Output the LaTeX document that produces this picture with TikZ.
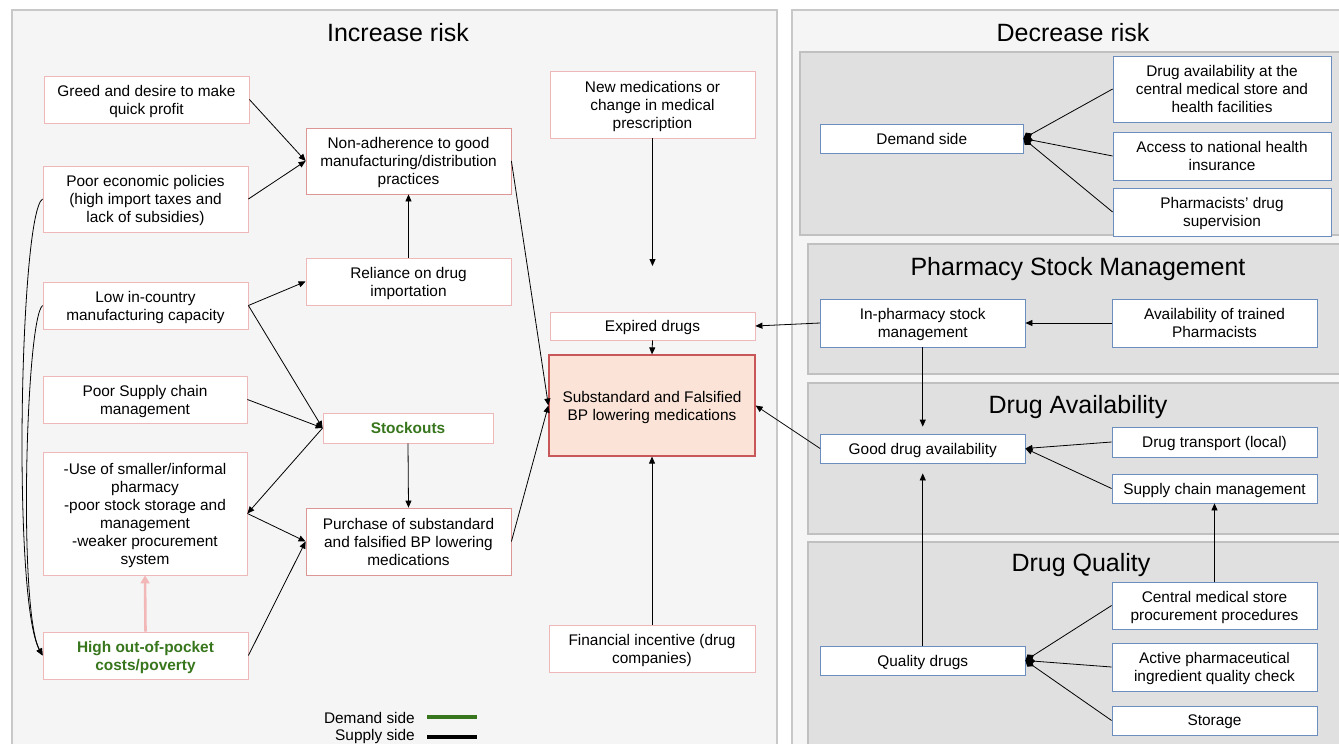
\documentclass[tikz,border=0pt]{standalone}
\usepackage{fontspec}
\setmainfont{Liberation Sans}
\usetikzlibrary{arrows.meta}
\definecolor{panelbg}{HTML}{F5F5F5}
\definecolor{panelln}{HTML}{C8C8C8}
\definecolor{subbg}{HTML}{E0E0E0}
\definecolor{subln}{HTML}{C0C0C0}
\definecolor{pinkb}{HTML}{EEB8B8}
\definecolor{pinkd}{HTML}{DC9696}
\definecolor{redb}{HTML}{C8575A}
\definecolor{redfill}{HTML}{FBE4D7}
\definecolor{blueb}{HTML}{6C8EBF}
\definecolor{dgreen}{HTML}{38761D}
\definecolor{pinkarrow}{HTML}{F2B8B8}
\begin{document}
\begin{tikzpicture}[x=1pt,y=-1pt,
  box/.style={draw, fill=white, line width=0.8pt, inner sep=0pt, align=center, text depth=-1.5pt, font=\fontsize{15.4}{18}\selectfont},
  pbox/.style={box, draw=pinkb},
  rbox/.style={box, draw=pinkd},
  bbox/.style={box, draw=blueb},
  sz/.style 2 args={minimum width=#1pt, minimum height=#2pt},
  conn/.style={line width=0.8pt, -{Triangle[length=7pt,width=6pt]}},
  dia/.style={line width=0.8pt, -{Diamond[length=10pt,width=8pt]}},
  panel/.style={fill=panelbg, draw=panelln, line width=1.2pt},
  subpanel/.style={fill=subbg, draw=subln, line width=1.2pt},
  title/.style={font=\fontsize{25}{30}\selectfont, inner sep=0pt},
  legtext/.style={font=\fontsize{15.4}{18}\selectfont, inner sep=0pt, anchor=east}
]
\clip (0,0) rectangle (1339,744);
\fill[white] (0,0) rectangle (1339,744);

% panels
\draw[panel] (12,10) rectangle (777,760);
\draw[panel] (792,10) rectangle (1350,760);
\draw[subpanel] (800,52) rectangle (1350,235);
\draw[subpanel] (808,244) rectangle (1350,374);
\draw[subpanel] (808,383) rectangle (1350,534);
\draw[subpanel] (808,542) rectangle (1350,760);

% titles
\node[title] (tinc) at (398,33) {Increase risk};
\node[title] (tdec) at (1073,33) {Decrease risk};
\node[title] (tpsm) at (1078,269) {Pharmacy Stock Management};
\node[title] (tda) at (1078,407.5) {Drug Availability};
\node[title] (tdq) at (1081,565.5) {Drug Quality};

% left column
\node[pbox, sz={205}{47}] (greed) at (146.5,99.5) {Greed and desire to make\\quick profit};
\node[pbox, sz={205}{66}] (econ) at (145.5,199) {Poor economic policies\\(high import taxes and\\lack of subsidies)};
\node[pbox, sz={205}{47}] (lowcap) at (145.5,305.5) {Low in-country\\manufacturing capacity};
\node[pbox, sz={204}{47}] (supply) at (145,399.5) {Poor Supply chain\\management};
\node[pbox, sz={204}{123}] (informal) at (145,513.5) {-Use of smaller/informal\\pharmacy\\-poor stock storage and\\management\\-weaker procurement\\system};
\node[pbox, sz={205}{47}, font=\fontsize{15.4}{18}\selectfont\bfseries, text=dgreen] (oop) at (145.5,655.5) {High out-of-pocket\\costs/poverty};

% middle column
\node[rbox, sz={205}{66}] (nonadh) at (408.5,161) {Non-adherence to good\\manufacturing/distribution\\practices};
\node[pbox, sz={205}{47}] (reliance) at (408.5,281.5) {Reliance on drug\\importation};
\node[pbox, sz={170}{30}, font=\fontsize{15.4}{18}\selectfont\bfseries, text=dgreen] (stockouts) at (408,428) {Stockouts};
\node[rbox, sz={205}{67}] (purchase) at (408.5,541.5) {Purchase of substandard\\and falsified BP lowering\\medications};

% centre column
\node[pbox, sz={205}{67}] (newmed) at (652.5,104.5) {New medications or\\change in medical\\prescription};
\coordinate (newmedend) at (652.5,266);
\node[pbox, sz={205}{28}] (expired) at (652.5,326) {Expired drugs};
\node[box, draw=redb, fill=redfill, line width=1.2pt, sz={206}{101}] (subst) at (652,405.5) {Substandard and Falsified\\BP lowering medications};
\node[pbox, sz={206}{47}] (financial) at (652,648.5) {Financial incentive (drug\\companies)};

% right side
\node[bbox, sz={202.5}{29}] (demand) at (921.75,138.5) {Demand side};
\node[bbox, sz={218}{66}] (davail) at (1222,89) {Drug availability at the\\central medical store and\\health facilities};
\node[bbox, sz={218}{48}] (access) at (1222,156) {Access to national health\\insurance};
\node[bbox, sz={218}{48}] (pharm) at (1222,212) {Pharmacists’ drug\\supervision};

\node[bbox, sz={204.5}{48}] (inpharm) at (922.75,323) {In-pharmacy stock\\management};
\node[bbox, sz={205}{48}] (trained) at (1214.5,323) {Availability of trained\\Pharmacists};

\node[bbox, sz={204.5}{29}] (gooddrug) at (922.75,448.5) {Good drug availability};
\node[bbox, sz={205}{30}] (transport) at (1214.5,442) {Drug transport (local)};
\node[bbox, sz={205}{29}] (supplychain) at (1214.5,488.5) {Supply chain management};

\node[bbox, sz={204.5}{29}] (quality) at (922.75,660.5) {Quality drugs};
\node[bbox, sz={205}{47}] (central) at (1214.5,605.5) {Central medical store\\procurement procedures};
\node[bbox, sz={205}{48}] (active) at (1214.5,667) {Active pharmaceutical\\ingredient quality check};
\node[bbox, sz={205}{29}] (storage) at (1214.5,720.5) {Storage};

% connectors left panel
\draw[conn] (greed.east) -- (nonadh.west);
\draw[conn] (econ.east) -- (nonadh.west);
\draw[conn] (reliance.north) -- (nonadh.south);
\draw[conn] (lowcap.east) -- (reliance.west);
\draw[conn] (lowcap.east) -- (stockouts.west);
\draw[conn] (supply.east) -- (stockouts.west);
\draw[conn] (stockouts.west) -- (informal.east);
\draw[conn] (informal.east) -- (purchase.west);
\draw[conn] (oop.east) -- (purchase.west);
\draw[conn] (stockouts.south) -- (purchase.north);
\draw[line width=2.6pt, draw=pinkarrow, -{Triangle[length=8pt,width=9pt]}] (oop.north) -- (informal.south);
\draw[conn] (econ.west) .. controls (20,212) and (12,600) .. (oop.west);
\draw[conn] (lowcap.west) .. controls (26,318) and (18,610) .. (oop.west);
\draw[conn] (nonadh.east) -- (subst.west);
\draw[conn] (purchase.east) -- (subst.west);
\draw[conn] (newmed.south) -- (newmedend);
\draw[conn] (expired.south) -- (subst.north);
\draw[conn] (financial.north) -- (subst.south);

% connectors right panel
\draw[dia] (davail.west) -- (demand.east);
\draw[dia] (access.west) -- (demand.east);
\draw[dia] (pharm.west) -- (demand.east);
\draw[conn] (inpharm.west) -- (expired.east);
\draw[conn] (trained.west) -- (inpharm.east);
\draw[conn, shorten >=7pt] (inpharm.south) -- (gooddrug.north);
\draw[conn] (gooddrug.west) -- (subst.east);
\draw[conn] (transport.west) -- (gooddrug.east);
\draw[conn] (supplychain.west) -- (gooddrug.east);
\draw[conn, shorten >=10pt] (quality.north) -- (gooddrug.south);
\draw[conn] (central.north) -- (supplychain.south);
\draw[dia] (central.west) -- (quality.east);
\draw[dia] (active.west) -- (quality.east);
\draw[dia] (storage.west) -- (quality.east);

% legend
\node[legtext] (legd) at (415,718) {Demand side};
\node[legtext] (legs) at (415,737) {Supply side};
\coordinate (ld1) at (427,717);
\coordinate (ld2) at (477,717);
\coordinate (ls1) at (427,737);
\coordinate (ls2) at (477,737);
\draw[dgreen, line width=3.5pt] (ld1) -- (ld2);
\draw[black, line width=3.5pt] (ls1) -- (ls2);
\end{tikzpicture}
\end{document}
